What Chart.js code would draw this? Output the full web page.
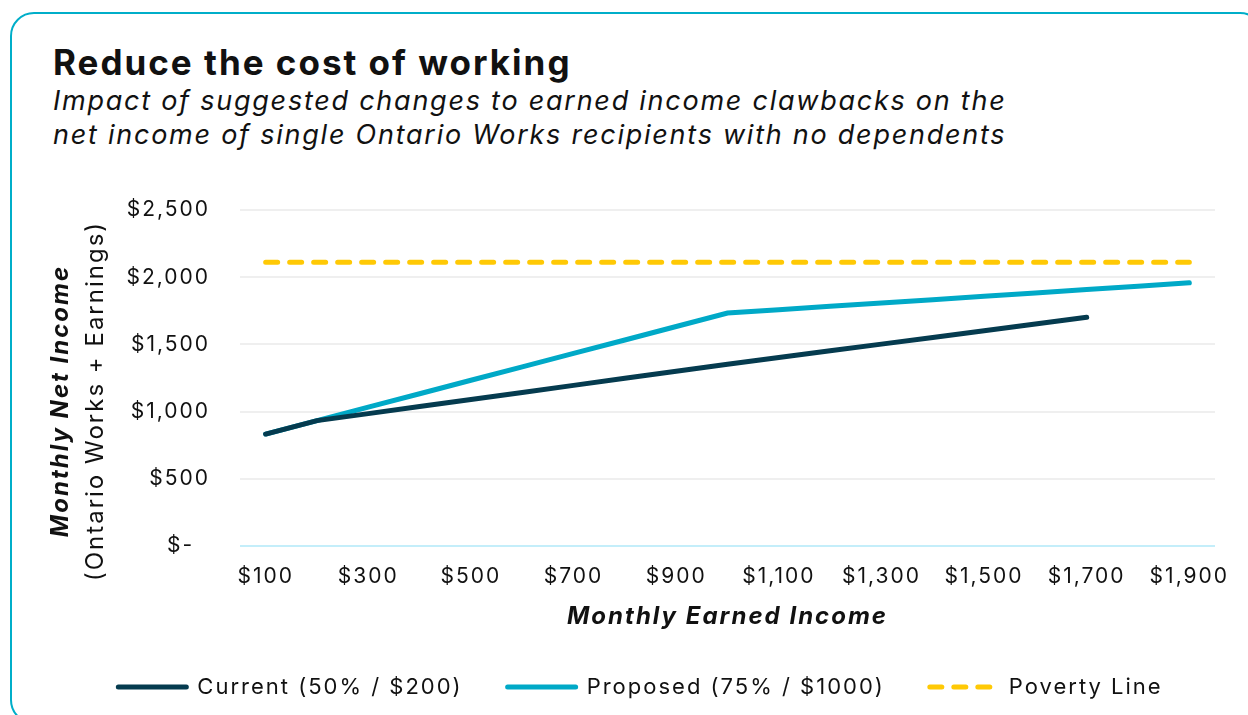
<!DOCTYPE html>
<html>
<head>
<meta charset="utf-8">
<script src="https://cdn.jsdelivr.net/npm/chart.js@4"></script>
<style>
  body { margin: 0; background: #fff; width: 1248px; height: 715px; overflow: hidden; position: relative; }
  .frame { position: absolute; left: 10px; top: 12px; width: 1250px; height: 708px; border: 2px solid #00aec9; border-radius: 24px; }
  .title { position: absolute; left: 53px; top: 42px; font: 700 35px Inter, sans-serif; letter-spacing: 2px; line-height: 40px; color: #111; white-space: nowrap; }
  .subtitle { position: absolute; left: 53px; top: 84px; font: italic 400 27px Inter, sans-serif; letter-spacing: 1.75px; line-height: 34px; color: #111; white-space: nowrap; }
  canvas { position: absolute; left: 0; top: 0; }
</style>
</head>
<body>
<div class="frame"></div>
<div class="title">Reduce the cost of working</div>
<div class="subtitle">Impact of suggested changes to earned income clawbacks on the<br>net income of single Ontario Works recipients with no dependents</div>
<canvas id="chart" width="1248" height="715"></canvas>
<script>
const earnedIncome = ['$100', '$200', '$300', '$400', '$500', '$600', '$700', '$800', '$900', '$1,000',
    '$1,100', '$1,200', '$1,300', '$1,400', '$1,500', '$1,600', '$1,700', '$1,800', '$1,900'];
const currentNet = [833, 933, 985, 1038, 1090, 1142, 1195, 1248, 1300, 1352,
    1402, 1452, 1502, 1552, 1602, 1652, 1702, null, null];
const proposedNet = [833, 933, 1033, 1133, 1233, 1333, 1433, 1533, 1633, 1733,
    1758, 1783, 1808, 1833, 1858, 1883, 1908, 1933, 1958];
const povertyLine = [2112, 2112, 2112, 2112, 2112, 2112, 2112, 2112, 2112, 2112,
    2112, 2112, 2112, 2112, 2112, 2112, 2112, 2112, 2112];
const seriesNames = ['Current (50% / $200)', 'Proposed (75% / $1000)', 'Poverty Line'];

const FONT = 'Inter';

// the original font is wider than Inter, so open the letters up a little
const spacingPlugin = {
    id: 'spacing',
    beforeUpdate(chart) { chart.ctx.letterSpacing = '2px'; },
    beforeDraw(chart) { chart.ctx.letterSpacing = '2px'; }
};

// y axis title has two lines in different weights, so draw it here
const yTitlePlugin = {
    id: 'yTitle',
    afterDraw(chart) {
        const { ctx, chartArea } = chart;
        const cy = (chartArea.top + chartArea.bottom) / 2 + 23;
        ctx.save();
        ctx.fillStyle = '#111';
        ctx.textAlign = 'center';
        ctx.textBaseline = 'middle';
        ctx.translate(chartArea.left - 179, cy);
        ctx.rotate(-Math.PI / 2);
        ctx.font = 'italic 700 24px ' + FONT;
        ctx.fillText('Monthly Net Income', 0, 0);
        ctx.font = '400 24px ' + FONT;
        ctx.fillText('(Ontario Works + Earnings)', 0, 35);
        ctx.restore();
    }
};

const ctx = document.getElementById('chart').getContext('2d');
const chart = new Chart(ctx, {
    type: 'line',
    data: {
        labels: earnedIncome,
        datasets: [{
            label: seriesNames[0],
            data: currentNet,
            borderColor: '#053b4f',
            backgroundColor: '#053b4f',
            borderWidth: 5,
            borderCapStyle: 'round',
            pointRadius: 0,
            tension: 0
        }, {
            label: seriesNames[1],
            data: proposedNet,
            borderColor: '#00a9c7',
            backgroundColor: '#00a9c7',
            borderWidth: 5,
            borderCapStyle: 'round',
            pointRadius: 0,
            tension: 0
        }, {
            label: seriesNames[2],
            data: povertyLine,
            borderColor: '#ffc905',
            backgroundColor: '#ffc905',
            borderWidth: 5,
            borderDash: [12, 12],
            borderCapStyle: 'round',
            pointRadius: 0,
            tension: 0
        }]
    },
    options: {
        responsive: false,
        animation: false,
        devicePixelRatio: 1,
        layout: { padding: { left: 66, right: 33, top: 210, bottom: 7 } },
        plugins: {
            legend: {
                position: 'bottom',
                labels: {
                    usePointStyle: true,
                    pointStyle: 'line',
                    pointStyleWidth: 68,
                    padding: 45,
                    color: '#111',
                    font: { family: FONT, size: 22 },
                    // point style legend takes the point's style, so copy the line's dash and caps back in
                    generateLabels(chart) {
                        const items = Chart.defaults.plugins.legend.labels.generateLabels(chart);
                        items.forEach(item => {
                            const ds = chart.data.datasets[item.datasetIndex];
                            item.lineDash = ds.borderDash || [];
                            item.lineCap = 'round';
                            item.lineWidth = ds.borderWidth;
                            item.strokeStyle = ds.borderColor;
                        });
                        return items;
                    }
                }
            },
            tooltip: { enabled: false }
        },
        scales: {
            x: {
                offset: true,
                afterFit(scale) { scale.height = 85; },
                grid: { display: false, drawTicks: false },
                border: { display: false },
                ticks: {
                    autoSkip: false,
                    maxRotation: 0,
                    padding: 18,
                    color: '#111',
                    font: { family: FONT, size: 21 },
                    callback(value, index) { return index % 2 === 0 ? earnedIncome[index] : ''; }
                },
                title: {
                    display: true,
                    text: 'Monthly Earned Income',
                    color: '#111',
                    padding: { top: 10, bottom: 0 },
                    font: { family: FONT, size: 24, weight: 'bold', style: 'italic' }
                }
            },
            y: {
                min: 0,
                max: 2500,
                afterFit(scale) { scale.width = 174; },
                border: { display: false },
                grid: {
                    drawTicks: false,
                    lineWidth: 2,
                    color: c => c.tick.value === 0 ? '#c4eefa' : '#efefef'
                },
                ticks: {
                    stepSize: 500,
                    padding: 30,
                    color: '#111',
                    font: { family: FONT, size: 21 },
                    callback: v => v === 0 ? '$-  ' : '$' + v.toLocaleString('en-US')
                }
            }
        }
    },
    plugins: [spacingPlugin, yTitlePlugin]
});
</script>
</body>
</html>
